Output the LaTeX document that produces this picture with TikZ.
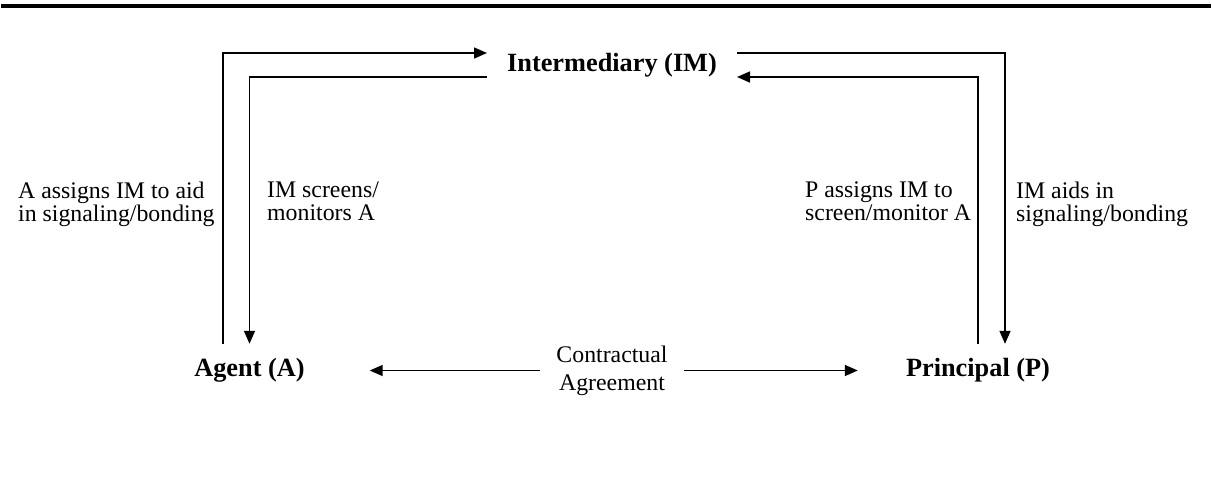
\documentclass[tikz,border=0pt]{standalone}
\usepackage{fontspec}
\setmainfont{Liberation Serif}
\usetikzlibrary{arrows.meta}
\begin{document}
\begin{tikzpicture}[x=1pt,y=-1pt,
  conn/.style={line width=1.5pt,-{Triangle[length=13pt,width=11pt]}},
  party/.style={font=\fontsize{26.3}{28}\selectfont\bfseries,
    minimum width=240pt,minimum height=52pt,inner sep=0pt,
    text height=18pt,text depth=6pt},
  hub/.style={font=\fontsize{26.3}{28}\selectfont\bfseries,
    inner xsep=20pt,inner ysep=0pt,minimum height=24pt},
  note/.style={font=\fontsize{23.8}{23}\selectfont,align=left,inner sep=0pt,anchor=north west},
  deal/.style={font=\fontsize{23.8}{28}\selectfont,align=center,inner xsep=16pt,inner ysep=0pt}]
  \useasboundingbox (0,0) rectangle (1212,479);
  % heavy rule along the top edge
  \fill (1,4) rectangle (1211,8);

  % the three parties
  \node[hub]   (IM) at (612,65)    {Intermediary (IM)};
  \node[party] (A)  at (249.5,370) {Agent (A)};
  \node[party] (P)  at (978,370)   {Principal (P)};
  \node[deal]  (C)  at (612,370.5) {Contractual\\Agreement};

  % links between agent, intermediary and principal
  \draw[conn] ([xshift=-26.5pt]A.north) |- ([yshift=12pt]IM.west);
  \draw[conn] ([yshift=-12pt]IM.west) -| (A.north);
  \draw[conn] (P.north) |- ([yshift=-12pt]IM.east);
  \draw[conn] ([yshift=12pt]IM.east) -| ([xshift=27pt]P.north);
  \draw[conn] (C.west) -- (A.east |- C.west);
  \draw[conn] (C.east) -- (P.west |- C.east);

  % labels beside the vertical links
  \node[note] (l1) at (18,181.5)  {A assigns IM to aid\\in signaling/bonding};
  \node[note] (l2) at (267,181.5) {IM screens/\\monitors A};
  \node[note] (l3) at (805,181.5) {P assigns IM to\\screen/monitor A};
  \node[note] (l4) at (1016,181.5){IM aids in\\signaling/bonding};
\end{tikzpicture}
\end{document}
